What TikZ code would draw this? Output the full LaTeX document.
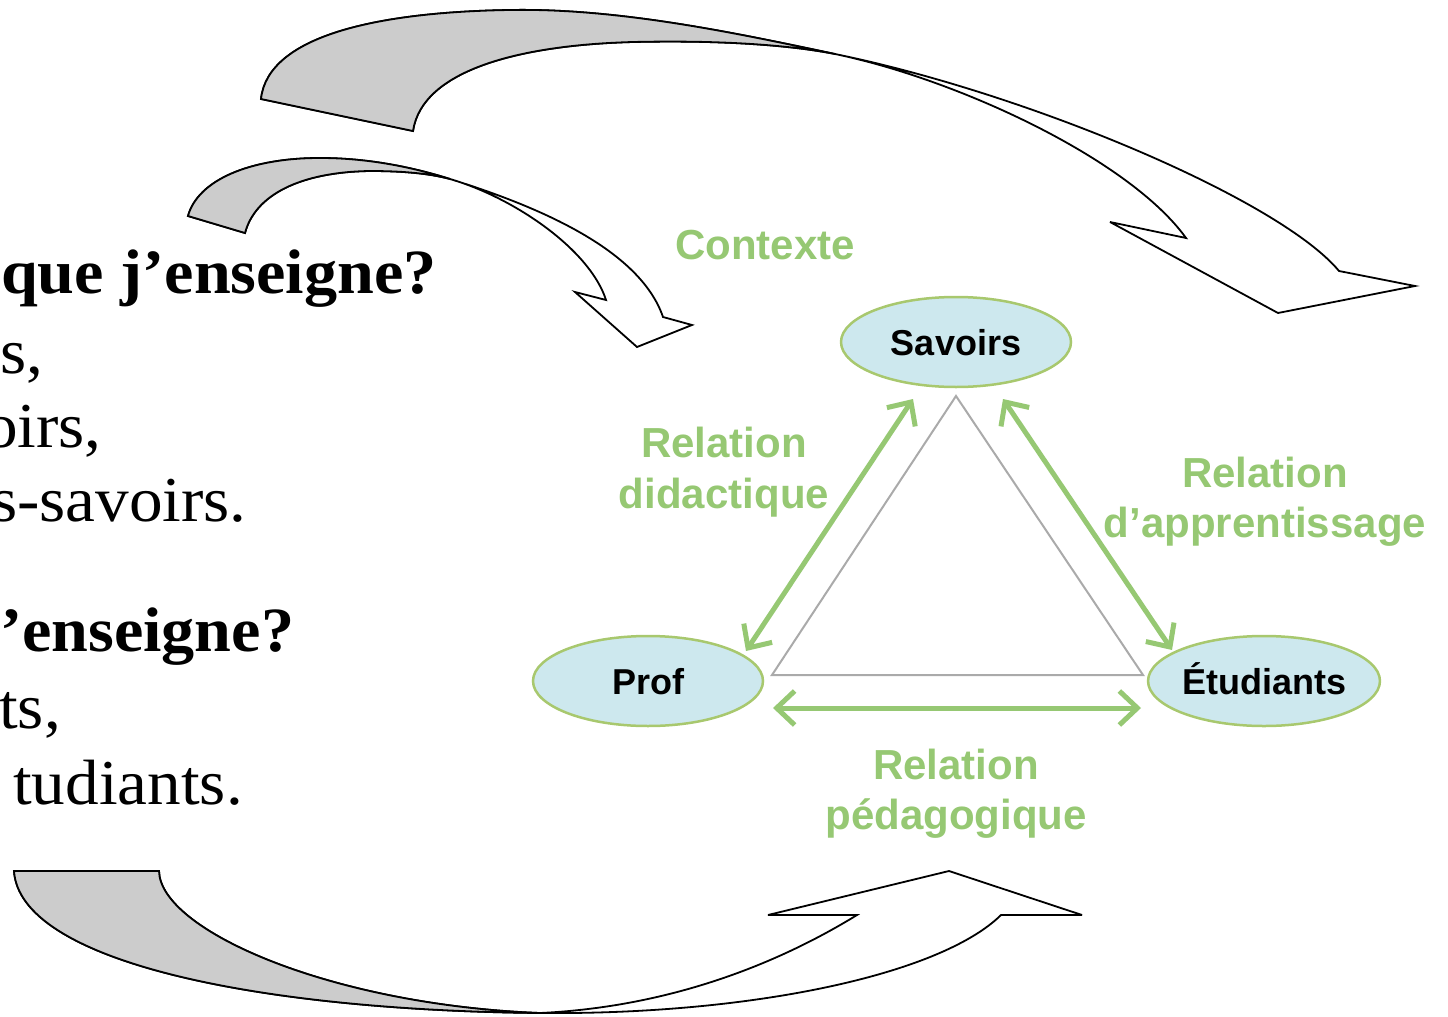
\documentclass[tikz,border=0pt]{standalone}
\usepackage{fontspec}
\setmainfont{Liberation Serif}
\newfontfamily\palat[FakeStretch=1.05]{Liberation Serif}
\newfontfamily\sansf{Liberation Sans}
\usetikzlibrary{arrows.meta,shapes.geometric}
\definecolor{grn}{RGB}{150,200,115}
\definecolor{ellfill}{RGB}{205,232,238}
\definecolor{elldraw}{RGB}{168,200,110}
\definecolor{ribbon}{RGB}{204,204,204}
\definecolor{trigray}{RGB}{170,170,170}
\begin{document}
\begin{tikzpicture}[x=1pt,y=-1pt,
  ribbonline/.style={draw=black,line width=1.8pt,line join=miter,miter limit=6},
  ell/.style={ellipse,draw=elldraw,line width=2.5pt,fill=ellfill,minimum width=230pt,minimum height=90pt,inner sep=0pt,
    font=\sansf\bfseries\fontsize{36}{40}\selectfont,text height=26pt,text depth=0pt},
  grntxt/.style={text=grn,font=\sansf\bfseries\fontsize{42}{50}\selectfont,inner sep=0pt,anchor=base},
  boldtxt/.style={font=\palat\bfseries\fontsize{63}{72}\selectfont,inner sep=0pt},
  regtxt/.style={font=\palat\fontsize{64}{72}\selectfont,inner sep=0pt,anchor=base east},
  relarrow/.style={draw=grn,line width=5pt,>={Straight Barb[length=18pt,width=34pt]},<->},
  tri/.style={draw=trigray,line width=2pt,line join=miter}]
\useasboundingbox (0,0) rectangle (1448,1017);

% curved arrow A (top, large)
\path[ribbonline,fill=white] (261,99) .. controls (268,35) and (380,12) .. (510,10)
  .. controls (620,8) and (740,34) .. (835,54)
  .. controls (1030,94) and (1280,200) .. (1339,271)
  -- (1415,286) -- (1278,313) -- (1110,222) -- (1186,238)
  .. controls (1130,160) and (960,80) .. (835,54)
  .. controls (790,45) and (720,40) .. (633,42)
  .. controls (520,45) and (422,70) .. (413,131) -- cycle;
\path[ribbonline,fill=ribbon] (261,99) .. controls (268,35) and (380,12) .. (510,10)
  .. controls (620,8) and (740,34) .. (835,54)
  .. controls (790,45) and (720,40) .. (633,42)
  .. controls (520,45) and (422,70) .. (413,131) -- cycle;

% curved arrow B (small)
\path[ribbonline,fill=white] (188,216) .. controls (198,180) and (250,158) .. (320,158)
  .. controls (370,158) and (415,168) .. (450,179)
  .. controls (540,207) and (640,250) .. (663,317)
  -- (692,325) -- (637,347) -- (575,292) -- (606,300)
  .. controls (590,250) and (515,198) .. (450,179)
  .. controls (428,173) and (400,171) .. (370,171)
  .. controls (300,172) and (255,195) .. (245,233) -- cycle;
\path[ribbonline,fill=ribbon] (188,216) .. controls (198,180) and (250,158) .. (320,158)
  .. controls (370,158) and (415,168) .. (450,179)
  .. controls (428,173) and (400,171) .. (370,171)
  .. controls (300,172) and (255,195) .. (245,233) -- cycle;

% curved arrow C (bottom)
\path[ribbonline,fill=white] (14,871) .. controls (20,960) and (250,1010) .. (540,1013)
  .. controls (750,1015) and (940,975) .. (1001,915)
  -- (1082,915) -- (949,871) -- (768,915) -- (857,915)
  .. controls (800,950) and (690,1006) .. (540,1013)
  .. controls (330,1005) and (160,930) .. (159,871) -- cycle;
\path[ribbonline,fill=ribbon] (14,871) .. controls (20,960) and (250,1010) .. (540,1013)
  .. controls (330,1005) and (160,930) .. (159,871) -- cycle;

% left text (cut by the page edge)
\node[boldtxt,anchor=base west] (q1) at (1,293) {que j’enseigne?};
\node[regtxt] (l2) at (44,373) {s,};
\node[regtxt] (l3) at (102,447) {oirs,};
\node[regtxt] (l4) at (247,521) {s-savoirs.};
\node[boldtxt,anchor=base west] (q2) at (0,651) {’enseigne?};
\node[regtxt] (l6) at (61,728) {ts,};
\node[regtxt] (l7) at (243,804) {tudiants.};

% triangle nodes
\node[ell] (sav) at (956,342) {Savoirs};
\node[ell] (prof) at (648,681) {Prof};
\node[ell] (etu) at (1264,681) {Étudiants};

\path (sav.center) ++(0,54) coordinate (ta);
\path (prof.center) ++(124,-6) coordinate (tl);
\path (etu.center) ++(-121,-6) coordinate (tr);
\draw[tri] (ta) -- (tl) -- (tr) -- cycle;

\path (sav.center) ++(-43,57) coordinate (sl);
\path (prof.center) ++(98,-30) coordinate (pu);
\path (sav.center) ++(47,57) coordinate (sr);
\path (etu.center) ++(-92,-31) coordinate (eu);
\path (prof.center) ++(125,27) coordinate (pr);
\path (etu.center) ++(-123,27) coordinate (el);
\draw[relarrow] (sl) -- (pu);
\draw[relarrow] (sr) -- (eu);
\draw[relarrow] (pr) -- (el);

% green labels
\node[grntxt] (ctx) at (765,259) {Contexte};
\node[grntxt] (rd1) at (724,457) {Relation};
\node[grntxt] (rd2) at (724,508) {didactique};
\node[grntxt] (ra1) at (1265,487) {Relation};
\node[grntxt] (ra2) at (1265,537) {d’apprentissage};
\node[grntxt] (rp1) at (956,779) {Relation};
\node[grntxt] (rp2) at (956,829) {pédagogique};
\end{tikzpicture}
\end{document}
